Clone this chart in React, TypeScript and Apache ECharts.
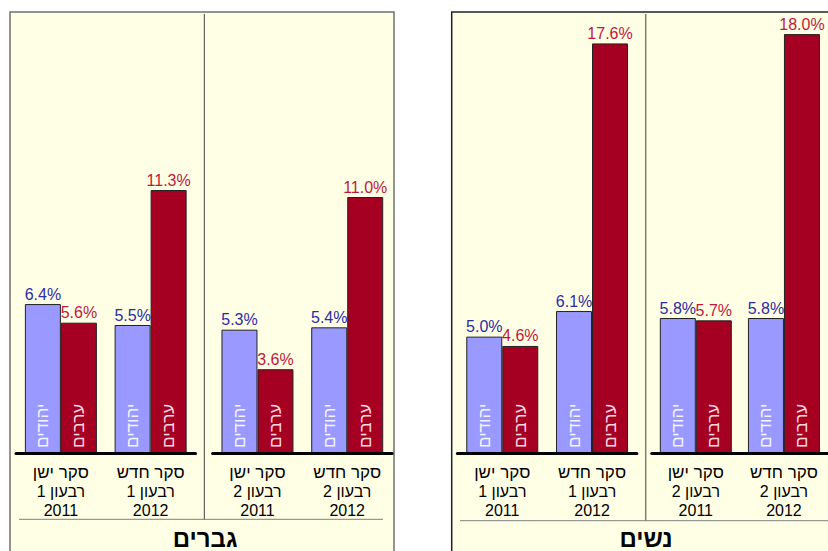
import React, { useEffect, useRef } from "react";
import * as echarts from "echarts";

// ---- data ----
const panelTitles = ["גברים", "נשים"];
const seriesNames = ["יהודים", "ערבים"];
// category labels per sub-panel (two categories each): survey | quarter | year
const surveyLabels = ["סקר ישן", "סקר חדש"];
const quarterLabels = ["רבעון 1", "רבעון 2"];
const yearLabels = ["2011", "2012"];
// values in % : order = Q1 old, Q1 new, Q2 old, Q2 new
const jewsMen = [6.4, 5.5, 5.3, 5.4];
const arabsMen = [5.6, 11.3, 3.6, 11.0];
const jewsWomen = [5.0, 6.1, 5.8, 5.8];
const arabsWomen = [4.6, 17.6, 5.7, 18.0];

const FONT = "'Liberation Sans', Arial, sans-serif";
const BLUE = "#9999FF";
const RED = "#A50021";
const BLUE_TXT = "#2B2BA6";
const RED_TXT = "#C0183C";

export default function App() {
  const ref = useRef<HTMLDivElement>(null);
  useEffect(() => {
    if (!ref.current) return;
    const chart = echarts.init(ref.current, undefined, { renderer: "svg" });

    const gridLefts = [16, 212.6, 457.4, 651.75];
    const gridWidth = 179.5;
    const gridTop = 34.1;
    const gridHeight = 418.9;

    const grids: any[] = [];
    const xAxes: any[] = [];
    const yAxes: any[] = [];
    const series: any[] = [];

    const panelData = [
      { j: jewsMen, a: arabsMen },
      { j: jewsWomen, a: arabsWomen },
    ];

    for (let p = 0; p < 4; p++) {
      const gender = Math.floor(p / 2);
      const q = p % 2;
      grids.push({ left: gridLefts[p], top: gridTop, width: gridWidth, height: gridHeight });
      const cats = [0, 1].map((k) => `${surveyLabels[k]}|${quarterLabels[q]}|${yearLabels[k]}`);
      xAxes.push({
        type: "category",
        gridIndex: p,
        data: cats,
        axisTick: { show: false },
        axisLine: { show: true, lineStyle: { color: "#000", width: 3 } },
        axisLabel: {
          margin: 9,
          interval: 0,
          formatter: (v: string) => {
            const parts = v.split("|");
            return `{a|${parts[0]}}\n{b|${parts[1]}}\n{b|${parts[2]}}`;
          },
          rich: {
            a: { fontSize: 17, fontFamily: FONT, color: "#000", lineHeight: 20 },
            b: { fontSize: 16, fontFamily: FONT, color: "#000", lineHeight: 19 },
          },
        },
        z: 5,
      });
      xAxes.push({
        type: "category",
        gridIndex: p,
        data: cats,
        show: false,
      });
      yAxes.push({
        type: "value",
        gridIndex: p,
        min: 0,
        max: 18,
        show: false,
        splitLine: { show: false },
      });
      const d = panelData[gender];
      const jv = [d.j[q * 2], d.j[q * 2 + 1]];
      const av = [d.a[q * 2], d.a[q * 2 + 1]];
      const valLabel = (color: string) => ({
        show: true,
        position: "top",
        distance: 2,
        fontSize: 16,
        fontFamily: FONT,
        color,
        formatter: (pp: any) => `${Number(pp.value).toFixed(1)}%`,
      });
      const nameLabel = (color: string, name: string) => ({
        show: true,
        position: "insideBottom",
        rotate: 90,
        align: "left",
        verticalAlign: "middle",
        distance: 5,
        fontSize: 17,
        fontFamily: FONT,
        color,
        formatter: () => name,
      });
      series.push({
        type: "bar",
        name: seriesNames[0],
        xAxisIndex: p * 2,
        yAxisIndex: p,
        data: jv,
        barWidth: 36,
        barGap: 0,
        itemStyle: { color: BLUE, borderColor: "#222", borderWidth: 1 },
        label: valLabel(BLUE_TXT),
      });
      series.push({
        type: "bar",
        name: seriesNames[1],
        xAxisIndex: p * 2,
        yAxisIndex: p,
        data: av,
        barWidth: 36,
        barGap: 0,
        itemStyle: { color: RED, borderColor: "#222", borderWidth: 1 },
        label: valLabel(RED_TXT),
      });
      series.push({
        type: "bar",
        name: seriesNames[0] + "-in",
        xAxisIndex: p * 2 + 1,
        yAxisIndex: p,
        data: jv,
        barWidth: 36,
        barGap: 0,
        silent: true,
        z: 3,
        itemStyle: { color: "rgba(0,0,0,0)" },
        label: nameLabel("#F4F4FF", seriesNames[0]),
      });
      series.push({
        type: "bar",
        name: seriesNames[1] + "-in",
        xAxisIndex: p * 2 + 1,
        yAxisIndex: p,
        data: av,
        barWidth: 36,
        barGap: 0,
        silent: true,
        z: 3,
        itemStyle: { color: "rgba(0,0,0,0)" },
        label: nameLabel("#FFD8E2", seriesNames[1]),
      });
    }

    const option: any = {
      animation: false,
      backgroundColor: "#FFFFFF",
      grid: grids,
      xAxis: xAxes,
      yAxis: yAxes,
      series,
      graphic: [
        {
          type: "rect",
          z: -1,
          shape: { x: 10, y: 12, width: 384, height: 560 },
          style: { fill: "#FFFFE6", stroke: "#707070", lineWidth: 1.5 },
        },
        {
          type: "rect",
          z: -1,
          shape: { x: 451.7, y: 12, width: 420, height: 560 },
          style: { fill: "#FFFFE6", stroke: "#222222", lineWidth: 1.5 },
        },
        {
          type: "line",
          z: 0,
          shape: { x1: 204.3, y1: 14, x2: 204.3, y2: 520 },
          style: { stroke: "#404040", lineWidth: 1 },
        },
        {
          type: "line",
          z: 0,
          shape: { x1: 645.7, y1: 14, x2: 645.7, y2: 521 },
          style: { stroke: "#808070", lineWidth: 1.5 },
        },
        {
          type: "line",
          z: 0,
          shape: { x1: 19, y1: 519.3, x2: 383, y2: 519.3 },
          style: { stroke: "#808080", lineWidth: 1 },
        },
        {
          type: "line",
          z: 0,
          shape: { x1: 460, y1: 520.7, x2: 828, y2: 520.7 },
          style: { stroke: "#808080", lineWidth: 1 },
        },
        {
          type: "text",
          z: 5,
          x: 205,
          y: 538,
          style: {
            text: panelTitles[0],
            fontSize: 24,
            fontWeight: "bold",
            fontFamily: FONT,
            fill: "#000",
            textAlign: "center",
            textVerticalAlign: "middle",
          },
        },
        {
          type: "text",
          z: 5,
          x: 646,
          y: 538,
          style: {
            text: panelTitles[1],
            fontSize: 24,
            fontWeight: "bold",
            fontFamily: FONT,
            fill: "#000",
            textAlign: "center",
            textVerticalAlign: "middle",
          },
        },
      ],
    };
    chart.setOption(option);
    return () => chart.dispose();
  }, []);
  return (
    <div
      ref={ref}
      style={{ position: "fixed", left: 0, top: 0, width: 828, height: 551 }}
    />
  );
}
